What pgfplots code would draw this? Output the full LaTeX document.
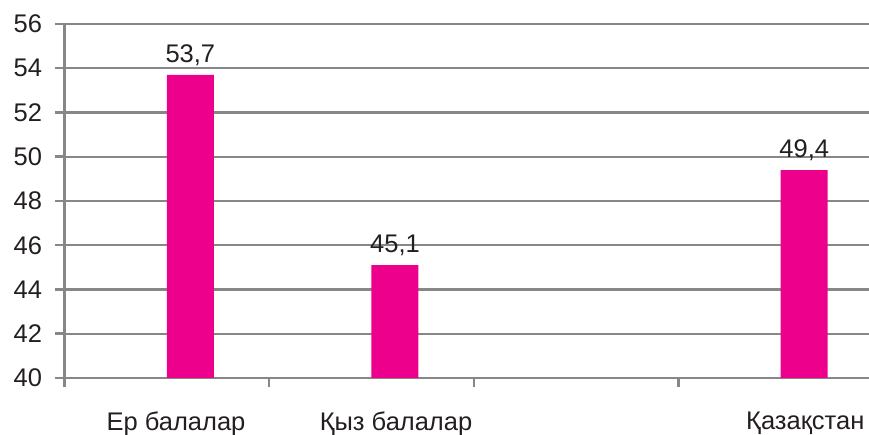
\documentclass[border=0pt]{standalone}
\usepackage{pgfplots}
\pgfplotsset{compat=1.18}
\usepackage{fontspec}
\setmainfont{Liberation Sans}
\definecolor{barc}{HTML}{EC008C}
\definecolor{gridc}{HTML}{878787}
\definecolor{txt}{HTML}{231F20}
\begin{document}
\begin{tikzpicture}
\begin{axis}[
  at={(0,0)}, anchor=south west,
  scale only axis, width=818.5pt, height=354pt,
  xmin=0, xmax=4, ymin=40, ymax=56,
  ytick={40,42,...,56},
  axis x line=bottom, axis y line=left,
  axis line style={-, gridc, line width=2.5pt},
  ymajorgrids, grid style={gridc, line width=2.2pt},
  tick align=outside, major tick length=9pt,
  tick style={gridc, line width=2.5pt},
  xtick={0,1,2,3,4}, xticklabels={,,,,},
  extra x ticks={0.545,1.62,3.62},
  extra x tick labels={Ер балалар, Қыз балалар, Қазақстан},
  extra x tick style={major tick length=0pt, grid=none,
     xticklabel style={yshift=-30pt}},
  every tick label/.append style={font=\fontsize{25.5}{30}\selectfont, text=txt},
  yticklabel style={xshift=-10pt},
  /pgf/number format/assume math mode=true,
  ybar, bar width=47pt, bar shift=0pt,
  nodes near coords, point meta=explicit symbolic,
  every node near coord/.append style={font=\fontsize{25.5}{30}\selectfont, text=txt, yshift=6pt},
]
\addplot[fill=barc, draw=none] coordinates {
  (0.615,53.7) [53,7]
  (1.615,45.1) [45,1]
  (3.615,49.4) [49,4]
};
\end{axis}
\pgfresetboundingbox
\useasboundingbox (-64.5pt,-57pt) rectangle (804.5pt,378pt);
\end{tikzpicture}
\end{document}
